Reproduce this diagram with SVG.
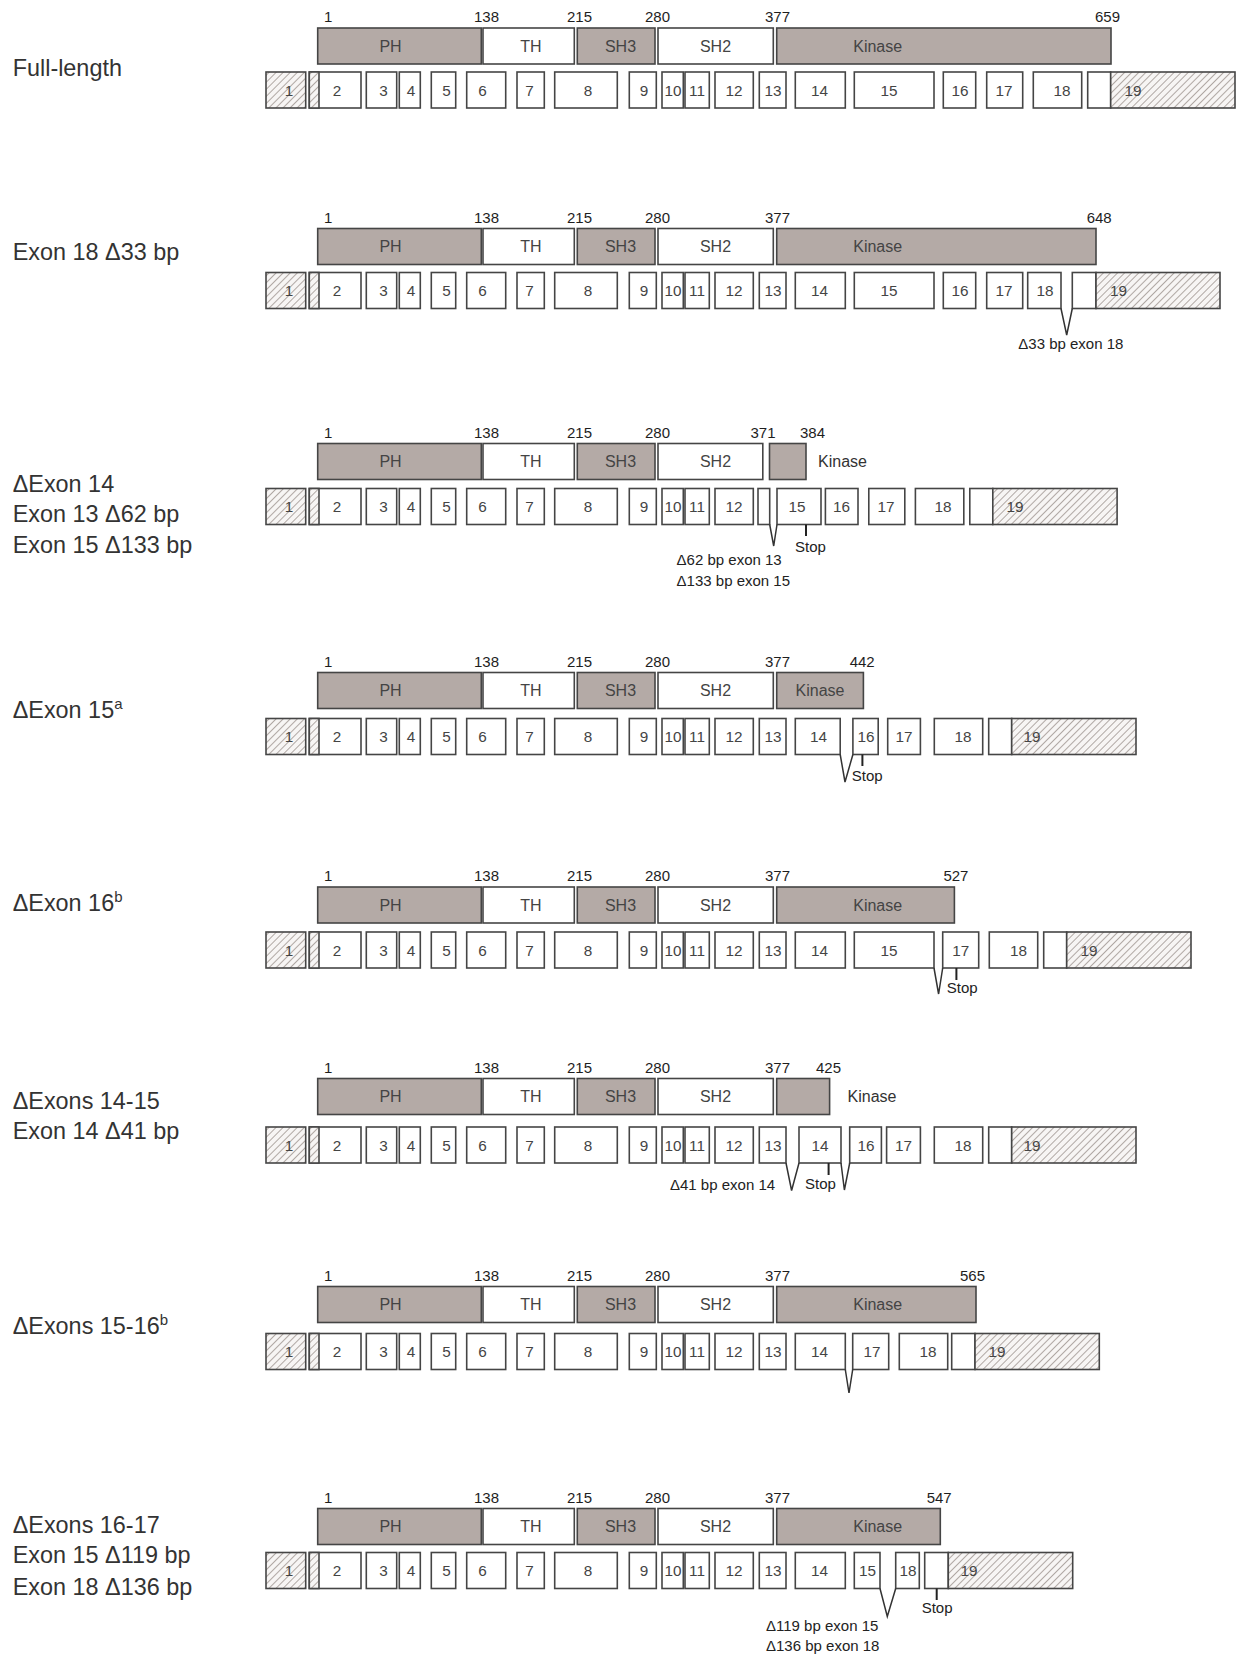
<svg xmlns="http://www.w3.org/2000/svg" width="1236" height="1655" viewBox="0 0 1236 1655">
<defs>
<pattern id="hatch" patternUnits="userSpaceOnUse" width="5" height="5" patternTransform="rotate(45)">
<rect width="5" height="5" fill="#f7f5f4"/>
<line x1="0" y1="0" x2="0" y2="5" stroke="#a39a96" stroke-width="1.7"/>
</pattern>
<style>
text{font-family:"Liberation Sans",Arial,sans-serif}
.dom{fill:#b4aaa6;stroke:#454545;stroke-width:1.6}
.dw{fill:#fff;stroke:#454545;stroke-width:1.6}
.ex{fill:#fff;stroke:#454545;stroke-width:1.6}
.hat{fill:url(#hatch);stroke:#454545;stroke-width:1.6}
.lbl{font-size:23.4px;fill:#333}
.sup{font-size:15px}
.num{font-size:15px;fill:#1e1e1e}
.dl{font-size:16px;fill:#444;text-anchor:middle}
.dls{font-size:16px;fill:#333}
.en{font-size:15.3px;fill:#444;text-anchor:middle}
.ann{font-size:15px;fill:#222}
.con{fill:none;stroke:#333;stroke-width:1.5}
.stop{fill:none;stroke:#222;stroke-width:2}
</style>
</defs>

<g id="labels">
<text class="lbl" x="12.7" y="76">Full-length</text>
<text class="lbl" x="12.7" y="259.5">Exon 18 Δ33 bp</text>
<text class="lbl" x="12.7" y="492">ΔExon 14</text>
<text class="lbl" x="12.7" y="521.5">Exon 13 Δ62 bp</text>
<text class="lbl" x="12.7" y="553">Exon 15 Δ133 bp</text>
<text class="lbl" x="12.7" y="718">ΔExon 15<tspan class="sup" dy="-9">a</tspan></text>
<text class="lbl" x="12.7" y="911">ΔExon 16<tspan class="sup" dy="-9">b</tspan></text>
<text class="lbl" x="12.7" y="1108.5">ΔExons 14-15</text>
<text class="lbl" x="12.7" y="1139">Exon 14 Δ41 bp</text>
<text class="lbl" x="12.7" y="1334">ΔExons 15-16<tspan class="sup" dy="-9">b</tspan></text>
<text class="lbl" x="12.7" y="1532.5">ΔExons 16-17</text>
<text class="lbl" x="12.7" y="1563">Exon 15 Δ119 bp</text>
<text class="lbl" x="12.7" y="1595">Exon 18 Δ136 bp</text>
</g>

<!-- Row 1 -->
<g id="row1">
<g id="r1-domains" transform="translate(0,28)">
<g id="r1-nums"><text class="num" x="324" y="-6">1</text><text class="num" x="474" y="-6">138</text><text class="num" x="567" y="-6">215</text><text class="num" x="645" y="-6">280</text><text class="num" x="765" y="-6">377</text><text class="num" x="1095" y="-6">659</text></g>
<g id="r1-PH"><rect class="dom" x="317.7" y="0" width="163.6" height="36"/><text class="dl" x="390.5" y="23.5">PH</text></g>
<g id="r1-TH"><rect class="dw" x="483" y="0" width="91.3" height="36"/><text class="dl" x="531" y="23.5">TH</text></g>
<g id="r1-SH3"><rect class="dom" x="577.3" y="0" width="77.7" height="36"/><text class="dl" x="620.5" y="23.5">SH3</text></g>
<g id="r1-SH2"><rect class="dw" x="658" y="0" width="115.3" height="36"/><text class="dl" x="715.5" y="23.5">SH2</text></g>
<g id="r1-kinase"><rect class="dom" x="776.7" y="0" width="334.3" height="36"/><text class="dl" x="877.7" y="23.5">Kinase</text></g>
</g>
<g id="r1-exons" transform="translate(0,72)">
<g id="r1-e1"><rect class="hat" x="266" y="0" width="39.7" height="36"/><text class="en" x="289" y="23.5">1</text></g>
<g id="r1-e2"><rect class="ex" x="309.3" y="0" width="51.7" height="36"/><rect class="hat" x="309.3" y="0" width="9.7" height="36"/><text class="en" x="337" y="23.5">2</text></g>
<g id="r1-e3"><rect class="ex" x="366.3" y="0" width="30.4" height="36"/><text class="en" x="383.5" y="23.5">3</text></g>
<g id="r1-e4"><rect class="ex" x="399.3" y="0" width="21" height="36"/><text class="en" x="411" y="23.5">4</text></g>
<g id="r1-e5"><rect class="ex" x="431.3" y="0" width="24.4" height="36"/><text class="en" x="446.5" y="23.5">5</text></g>
<g id="r1-e6"><rect class="ex" x="466.7" y="0" width="39" height="36"/><text class="en" x="482.5" y="23.5">6</text></g>
<g id="r1-e7"><rect class="ex" x="517" y="0" width="27.3" height="36"/><text class="en" x="529.5" y="23.5">7</text></g>
<g id="r1-e8"><rect class="ex" x="554.7" y="0" width="62.6" height="36"/><text class="en" x="588" y="23.5">8</text></g>
<g id="r1-e9"><rect class="ex" x="629.3" y="0" width="27" height="36"/><text class="en" x="644" y="23.5">9</text></g>
<g id="r1-e10"><rect class="ex" x="662" y="0" width="21.3" height="36"/><text class="en" x="673" y="23.5">10</text></g>
<g id="r1-e11"><rect class="ex" x="685" y="0" width="24.3" height="36"/><text class="en" x="697" y="23.5">11</text></g>
<g id="r1-e12"><rect class="ex" x="715" y="0" width="38.3" height="36"/><text class="en" x="734" y="23.5">12</text></g>
<g id="r1-e13"><rect class="ex" x="759.3" y="0" width="26.7" height="36"/><text class="en" x="773" y="23.5">13</text></g>
<g id="r1-e14"><rect class="ex" x="795.3" y="0" width="50" height="36"/><text class="en" x="819.5" y="23.5">14</text></g>
<g id="r1-e15"><rect class="ex" x="854.3" y="0" width="79.7" height="36"/><text class="en" x="889" y="23.5">15</text></g>
<g id="r1-e16"><rect class="ex" x="943.3" y="0" width="32.4" height="36"/><text class="en" x="960" y="23.5">16</text></g>
<g id="r1-e17"><rect class="ex" x="986.7" y="0" width="36" height="36"/><text class="en" x="1004" y="23.5">17</text></g>
<g id="r1-e18"><rect class="ex" x="1033.3" y="0" width="48.4" height="36"/><text class="en" x="1062" y="23.5">18</text></g>
<g id="r1-e19"><rect class="ex" x="1087.7" y="0" width="23" height="36"/><rect class="hat" x="1110.7" y="0" width="124.3" height="36"/><text class="en" x="1133" y="23.5">19</text></g>
</g>
</g>

<!-- Row 2 -->
<g id="row2">
<g id="r2-domains" transform="translate(0,228.5)">
<g id="r2-nums"><text class="num" x="324" y="-6">1</text><text class="num" x="474" y="-6">138</text><text class="num" x="567" y="-6">215</text><text class="num" x="645" y="-6">280</text><text class="num" x="765" y="-6">377</text><text class="num" x="1086.7" y="-6">648</text></g>
<g id="r2-PH"><rect class="dom" x="317.7" y="0" width="163.6" height="36"/><text class="dl" x="390.5" y="23.5">PH</text></g>
<g id="r2-TH"><rect class="dw" x="483" y="0" width="91.3" height="36"/><text class="dl" x="531" y="23.5">TH</text></g>
<g id="r2-SH3"><rect class="dom" x="577.3" y="0" width="77.7" height="36"/><text class="dl" x="620.5" y="23.5">SH3</text></g>
<g id="r2-SH2"><rect class="dw" x="658" y="0" width="115.3" height="36"/><text class="dl" x="715.5" y="23.5">SH2</text></g>
<g id="r2-kinase"><rect class="dom" x="776.7" y="0" width="319.3" height="36"/><text class="dl" x="877.7" y="23.5">Kinase</text></g>
</g>
<g id="r2-exons" transform="translate(0,272.5)">
<g id="r2-e1"><rect class="hat" x="266" y="0" width="39.7" height="36"/><text class="en" x="289" y="23.5">1</text></g>
<g id="r2-e2"><rect class="ex" x="309.3" y="0" width="51.7" height="36"/><rect class="hat" x="309.3" y="0" width="9.7" height="36"/><text class="en" x="337" y="23.5">2</text></g>
<g id="r2-e3"><rect class="ex" x="366.3" y="0" width="30.4" height="36"/><text class="en" x="383.5" y="23.5">3</text></g>
<g id="r2-e4"><rect class="ex" x="399.3" y="0" width="21" height="36"/><text class="en" x="411" y="23.5">4</text></g>
<g id="r2-e5"><rect class="ex" x="431.3" y="0" width="24.4" height="36"/><text class="en" x="446.5" y="23.5">5</text></g>
<g id="r2-e6"><rect class="ex" x="466.7" y="0" width="39" height="36"/><text class="en" x="482.5" y="23.5">6</text></g>
<g id="r2-e7"><rect class="ex" x="517" y="0" width="27.3" height="36"/><text class="en" x="529.5" y="23.5">7</text></g>
<g id="r2-e8"><rect class="ex" x="554.7" y="0" width="62.6" height="36"/><text class="en" x="588" y="23.5">8</text></g>
<g id="r2-e9"><rect class="ex" x="629.3" y="0" width="27" height="36"/><text class="en" x="644" y="23.5">9</text></g>
<g id="r2-e10"><rect class="ex" x="662" y="0" width="21.3" height="36"/><text class="en" x="673" y="23.5">10</text></g>
<g id="r2-e11"><rect class="ex" x="685" y="0" width="24.3" height="36"/><text class="en" x="697" y="23.5">11</text></g>
<g id="r2-e12"><rect class="ex" x="715" y="0" width="38.3" height="36"/><text class="en" x="734" y="23.5">12</text></g>
<g id="r2-e13"><rect class="ex" x="759.3" y="0" width="26.7" height="36"/><text class="en" x="773" y="23.5">13</text></g>
<g id="r2-e14"><rect class="ex" x="795.3" y="0" width="50" height="36"/><text class="en" x="819.5" y="23.5">14</text></g>
<g id="r2-e15"><rect class="ex" x="854.3" y="0" width="79.7" height="36"/><text class="en" x="889" y="23.5">15</text></g>
<g id="r2-e16"><rect class="ex" x="943.3" y="0" width="32.4" height="36"/><text class="en" x="960" y="23.5">16</text></g>
<g id="r2-e17"><rect class="ex" x="986.7" y="0" width="36" height="36"/><text class="en" x="1004" y="23.5">17</text></g>
<g id="r2-e18"><rect class="ex" x="1027.7" y="0" width="33.3" height="36"/><text class="en" x="1045" y="23.5">18</text></g>
<g id="r2-e19"><rect class="ex" x="1072.3" y="0" width="23.7" height="36"/><rect class="hat" x="1096" y="0" width="124" height="36"/><text class="en" x="1118.5" y="23.5">19</text></g>
</g>
</g>

<!-- Row 3 -->
<g id="row3">
<g id="r3-domains" transform="translate(0,443.5)">
<g id="r3-nums"><text class="num" x="324" y="-6">1</text><text class="num" x="474" y="-6">138</text><text class="num" x="567" y="-6">215</text><text class="num" x="645" y="-6">280</text><text class="num" x="750.5" y="-6">371</text><text class="num" x="800" y="-6">384</text></g>
<g id="r3-PH"><rect class="dom" x="317.7" y="0" width="163.6" height="36"/><text class="dl" x="390.5" y="23.5">PH</text></g>
<g id="r3-TH"><rect class="dw" x="483" y="0" width="91.3" height="36"/><text class="dl" x="531" y="23.5">TH</text></g>
<g id="r3-SH3"><rect class="dom" x="577.3" y="0" width="77.7" height="36"/><text class="dl" x="620.5" y="23.5">SH3</text></g>
<g id="r3-SH2"><rect class="dw" x="658" y="0" width="104.8" height="36"/><text class="dl" x="715.5" y="23.5">SH2</text></g>
<g id="r3-kinase"><rect class="dom" x="769.5" y="0" width="36.5" height="36"/><text class="dls" x="818" y="23.5">Kinase</text></g>
</g>
<g id="r3-exons" transform="translate(0,488.5)">
<g id="r3-e1"><rect class="hat" x="266" y="0" width="39.7" height="36"/><text class="en" x="289" y="23.5">1</text></g>
<g id="r3-e2"><rect class="ex" x="309.3" y="0" width="51.7" height="36"/><rect class="hat" x="309.3" y="0" width="9.7" height="36"/><text class="en" x="337" y="23.5">2</text></g>
<g id="r3-e3"><rect class="ex" x="366.3" y="0" width="30.4" height="36"/><text class="en" x="383.5" y="23.5">3</text></g>
<g id="r3-e4"><rect class="ex" x="399.3" y="0" width="21" height="36"/><text class="en" x="411" y="23.5">4</text></g>
<g id="r3-e5"><rect class="ex" x="431.3" y="0" width="24.4" height="36"/><text class="en" x="446.5" y="23.5">5</text></g>
<g id="r3-e6"><rect class="ex" x="466.7" y="0" width="39" height="36"/><text class="en" x="482.5" y="23.5">6</text></g>
<g id="r3-e7"><rect class="ex" x="517" y="0" width="27.3" height="36"/><text class="en" x="529.5" y="23.5">7</text></g>
<g id="r3-e8"><rect class="ex" x="554.7" y="0" width="62.6" height="36"/><text class="en" x="588" y="23.5">8</text></g>
<g id="r3-e9"><rect class="ex" x="629.3" y="0" width="27" height="36"/><text class="en" x="644" y="23.5">9</text></g>
<g id="r3-e10"><rect class="ex" x="662" y="0" width="21.3" height="36"/><text class="en" x="673" y="23.5">10</text></g>
<g id="r3-e11"><rect class="ex" x="685" y="0" width="24.3" height="36"/><text class="en" x="697" y="23.5">11</text></g>
<g id="r3-e12"><rect class="ex" x="715" y="0" width="38.3" height="36"/><text class="en" x="734" y="23.5">12</text></g>
<g id="r3-e13"><rect class="ex" x="758" y="0" width="11.7" height="36"/></g>
<g id="r3-e15"><rect class="ex" x="777" y="0" width="44" height="36"/><text class="en" x="797" y="23.5">15</text></g>
<g id="r3-e16"><rect class="ex" x="825.4" y="0" width="32.6" height="36"/><text class="en" x="841.5" y="23.5">16</text></g>
<g id="r3-e17"><rect class="ex" x="868.8" y="0" width="36" height="36"/><text class="en" x="886" y="23.5">17</text></g>
<g id="r3-e18"><rect class="ex" x="915.4" y="0" width="48.4" height="36"/><text class="en" x="943" y="23.5">18</text></g>
<g id="r3-e19"><rect class="ex" x="969.8" y="0" width="23" height="36"/><rect class="hat" x="992.8" y="0" width="124.3" height="36"/><text class="en" x="1015" y="23.5">19</text></g>
</g>
</g>

<!-- Row 4 -->
<g id="row4">
<g id="r4-domains" transform="translate(0,672.5)">
<g id="r4-nums"><text class="num" x="324" y="-6">1</text><text class="num" x="474" y="-6">138</text><text class="num" x="567" y="-6">215</text><text class="num" x="645" y="-6">280</text><text class="num" x="765" y="-6">377</text><text class="num" x="849.7" y="-6">442</text></g>
<g id="r4-PH"><rect class="dom" x="317.7" y="0" width="163.6" height="36"/><text class="dl" x="390.5" y="23.5">PH</text></g>
<g id="r4-TH"><rect class="dw" x="483" y="0" width="91.3" height="36"/><text class="dl" x="531" y="23.5">TH</text></g>
<g id="r4-SH3"><rect class="dom" x="577.3" y="0" width="77.7" height="36"/><text class="dl" x="620.5" y="23.5">SH3</text></g>
<g id="r4-SH2"><rect class="dw" x="658" y="0" width="115.3" height="36"/><text class="dl" x="715.5" y="23.5">SH2</text></g>
<g id="r4-kinase"><rect class="dom" x="776.7" y="0" width="86.7" height="36"/><text class="dl" x="820" y="23.5">Kinase</text></g>
</g>
<g id="r4-exons" transform="translate(0,718.5)">
<g id="r4-e1"><rect class="hat" x="266" y="0" width="39.7" height="36"/><text class="en" x="289" y="23.5">1</text></g>
<g id="r4-e2"><rect class="ex" x="309.3" y="0" width="51.7" height="36"/><rect class="hat" x="309.3" y="0" width="9.7" height="36"/><text class="en" x="337" y="23.5">2</text></g>
<g id="r4-e3"><rect class="ex" x="366.3" y="0" width="30.4" height="36"/><text class="en" x="383.5" y="23.5">3</text></g>
<g id="r4-e4"><rect class="ex" x="399.3" y="0" width="21" height="36"/><text class="en" x="411" y="23.5">4</text></g>
<g id="r4-e5"><rect class="ex" x="431.3" y="0" width="24.4" height="36"/><text class="en" x="446.5" y="23.5">5</text></g>
<g id="r4-e6"><rect class="ex" x="466.7" y="0" width="39" height="36"/><text class="en" x="482.5" y="23.5">6</text></g>
<g id="r4-e7"><rect class="ex" x="517" y="0" width="27.3" height="36"/><text class="en" x="529.5" y="23.5">7</text></g>
<g id="r4-e8"><rect class="ex" x="554.7" y="0" width="62.6" height="36"/><text class="en" x="588" y="23.5">8</text></g>
<g id="r4-e9"><rect class="ex" x="629.3" y="0" width="27" height="36"/><text class="en" x="644" y="23.5">9</text></g>
<g id="r4-e10"><rect class="ex" x="662" y="0" width="21.3" height="36"/><text class="en" x="673" y="23.5">10</text></g>
<g id="r4-e11"><rect class="ex" x="685" y="0" width="24.3" height="36"/><text class="en" x="697" y="23.5">11</text></g>
<g id="r4-e12"><rect class="ex" x="715" y="0" width="38.3" height="36"/><text class="en" x="734" y="23.5">12</text></g>
<g id="r4-e13"><rect class="ex" x="759.3" y="0" width="26.7" height="36"/><text class="en" x="773" y="23.5">13</text></g>
<g id="r4-e14"><rect class="ex" x="795.3" y="0" width="44.9" height="36"/><text class="en" x="818.5" y="23.5">14</text></g>
<g id="r4-e16"><rect class="ex" x="852.9" y="0" width="25.3" height="36"/><text class="en" x="866" y="23.5">16</text></g>
<g id="r4-e17"><rect class="ex" x="887.7" y="0" width="32.7" height="36"/><text class="en" x="904" y="23.5">17</text></g>
<g id="r4-e18"><rect class="ex" x="934.3" y="0" width="48.4" height="36"/><text class="en" x="963" y="23.5">18</text></g>
<g id="r4-e19"><rect class="ex" x="988.7" y="0" width="23" height="36"/><rect class="hat" x="1011.7" y="0" width="124.3" height="36"/><text class="en" x="1032" y="23.5">19</text></g>
</g>
</g>

<!-- Row 5 -->
<g id="row5">
<g id="r5-domains" transform="translate(0,887)">
<g id="r5-nums"><text class="num" x="324" y="-6">1</text><text class="num" x="474" y="-6">138</text><text class="num" x="567" y="-6">215</text><text class="num" x="645" y="-6">280</text><text class="num" x="765" y="-6">377</text><text class="num" x="943.4" y="-6">527</text></g>
<g id="r5-PH"><rect class="dom" x="317.7" y="0" width="163.6" height="36"/><text class="dl" x="390.5" y="23.5">PH</text></g>
<g id="r5-TH"><rect class="dw" x="483" y="0" width="91.3" height="36"/><text class="dl" x="531" y="23.5">TH</text></g>
<g id="r5-SH3"><rect class="dom" x="577.3" y="0" width="77.7" height="36"/><text class="dl" x="620.5" y="23.5">SH3</text></g>
<g id="r5-SH2"><rect class="dw" x="658" y="0" width="115.3" height="36"/><text class="dl" x="715.5" y="23.5">SH2</text></g>
<g id="r5-kinase"><rect class="dom" x="776.7" y="0" width="177.7" height="36"/><text class="dl" x="877.7" y="23.5">Kinase</text></g>
</g>
<g id="r5-exons" transform="translate(0,932)">
<g id="r5-e1"><rect class="hat" x="266" y="0" width="39.7" height="36"/><text class="en" x="289" y="23.5">1</text></g>
<g id="r5-e2"><rect class="ex" x="309.3" y="0" width="51.7" height="36"/><rect class="hat" x="309.3" y="0" width="9.7" height="36"/><text class="en" x="337" y="23.5">2</text></g>
<g id="r5-e3"><rect class="ex" x="366.3" y="0" width="30.4" height="36"/><text class="en" x="383.5" y="23.5">3</text></g>
<g id="r5-e4"><rect class="ex" x="399.3" y="0" width="21" height="36"/><text class="en" x="411" y="23.5">4</text></g>
<g id="r5-e5"><rect class="ex" x="431.3" y="0" width="24.4" height="36"/><text class="en" x="446.5" y="23.5">5</text></g>
<g id="r5-e6"><rect class="ex" x="466.7" y="0" width="39" height="36"/><text class="en" x="482.5" y="23.5">6</text></g>
<g id="r5-e7"><rect class="ex" x="517" y="0" width="27.3" height="36"/><text class="en" x="529.5" y="23.5">7</text></g>
<g id="r5-e8"><rect class="ex" x="554.7" y="0" width="62.6" height="36"/><text class="en" x="588" y="23.5">8</text></g>
<g id="r5-e9"><rect class="ex" x="629.3" y="0" width="27" height="36"/><text class="en" x="644" y="23.5">9</text></g>
<g id="r5-e10"><rect class="ex" x="662" y="0" width="21.3" height="36"/><text class="en" x="673" y="23.5">10</text></g>
<g id="r5-e11"><rect class="ex" x="685" y="0" width="24.3" height="36"/><text class="en" x="697" y="23.5">11</text></g>
<g id="r5-e12"><rect class="ex" x="715" y="0" width="38.3" height="36"/><text class="en" x="734" y="23.5">12</text></g>
<g id="r5-e13"><rect class="ex" x="759.3" y="0" width="26.7" height="36"/><text class="en" x="773" y="23.5">13</text></g>
<g id="r5-e14"><rect class="ex" x="795.3" y="0" width="50" height="36"/><text class="en" x="819.5" y="23.5">14</text></g>
<g id="r5-e15"><rect class="ex" x="854.3" y="0" width="79.7" height="36"/><text class="en" x="889" y="23.5">15</text></g>
<g id="r5-e17"><rect class="ex" x="942.7" y="0" width="36" height="36"/><text class="en" x="960.7" y="23.5">17</text></g>
<g id="r5-e18"><rect class="ex" x="989.3" y="0" width="48.4" height="36"/><text class="en" x="1018.5" y="23.5">18</text></g>
<g id="r5-e19"><rect class="ex" x="1043.7" y="0" width="23" height="36"/><rect class="hat" x="1066.7" y="0" width="124.3" height="36"/><text class="en" x="1089" y="23.5">19</text></g>
</g>
</g>

<!-- Row 6 -->
<g id="row6">
<g id="r6-domains" transform="translate(0,1078.5)">
<g id="r6-nums"><text class="num" x="324" y="-6">1</text><text class="num" x="474" y="-6">138</text><text class="num" x="567" y="-6">215</text><text class="num" x="645" y="-6">280</text><text class="num" x="765" y="-6">377</text><text class="num" x="816" y="-6">425</text></g>
<g id="r6-PH"><rect class="dom" x="317.7" y="0" width="163.6" height="36"/><text class="dl" x="390.5" y="23.5">PH</text></g>
<g id="r6-TH"><rect class="dw" x="483" y="0" width="91.3" height="36"/><text class="dl" x="531" y="23.5">TH</text></g>
<g id="r6-SH3"><rect class="dom" x="577.3" y="0" width="77.7" height="36"/><text class="dl" x="620.5" y="23.5">SH3</text></g>
<g id="r6-SH2"><rect class="dw" x="658" y="0" width="115.3" height="36"/><text class="dl" x="715.5" y="23.5">SH2</text></g>
<g id="r6-kinase"><rect class="dom" x="776.7" y="0" width="52.9" height="36"/><text class="dls" x="847.6" y="23.5">Kinase</text></g>
</g>
<g id="r6-exons" transform="translate(0,1127)">
<g id="r6-e1"><rect class="hat" x="266" y="0" width="39.7" height="36"/><text class="en" x="289" y="23.5">1</text></g>
<g id="r6-e2"><rect class="ex" x="309.3" y="0" width="51.7" height="36"/><rect class="hat" x="309.3" y="0" width="9.7" height="36"/><text class="en" x="337" y="23.5">2</text></g>
<g id="r6-e3"><rect class="ex" x="366.3" y="0" width="30.4" height="36"/><text class="en" x="383.5" y="23.5">3</text></g>
<g id="r6-e4"><rect class="ex" x="399.3" y="0" width="21" height="36"/><text class="en" x="411" y="23.5">4</text></g>
<g id="r6-e5"><rect class="ex" x="431.3" y="0" width="24.4" height="36"/><text class="en" x="446.5" y="23.5">5</text></g>
<g id="r6-e6"><rect class="ex" x="466.7" y="0" width="39" height="36"/><text class="en" x="482.5" y="23.5">6</text></g>
<g id="r6-e7"><rect class="ex" x="517" y="0" width="27.3" height="36"/><text class="en" x="529.5" y="23.5">7</text></g>
<g id="r6-e8"><rect class="ex" x="554.7" y="0" width="62.6" height="36"/><text class="en" x="588" y="23.5">8</text></g>
<g id="r6-e9"><rect class="ex" x="629.3" y="0" width="27" height="36"/><text class="en" x="644" y="23.5">9</text></g>
<g id="r6-e10"><rect class="ex" x="662" y="0" width="21.3" height="36"/><text class="en" x="673" y="23.5">10</text></g>
<g id="r6-e11"><rect class="ex" x="685" y="0" width="24.3" height="36"/><text class="en" x="697" y="23.5">11</text></g>
<g id="r6-e12"><rect class="ex" x="715" y="0" width="38.3" height="36"/><text class="en" x="734" y="23.5">12</text></g>
<g id="r6-e13"><rect class="ex" x="759.3" y="0" width="26.7" height="36"/><text class="en" x="773" y="23.5">13</text></g>
<g id="r6-e14"><rect class="ex" x="799" y="0" width="42" height="36"/><text class="en" x="820" y="23.5">14</text></g>
<g id="r6-e16"><rect class="ex" x="849.7" y="0" width="31.7" height="36"/><text class="en" x="866" y="23.5">16</text></g>
<g id="r6-e17"><rect class="ex" x="886.6" y="0" width="33.8" height="36"/><text class="en" x="903.5" y="23.5">17</text></g>
<g id="r6-e18"><rect class="ex" x="934.3" y="0" width="48.4" height="36"/><text class="en" x="963" y="23.5">18</text></g>
<g id="r6-e19"><rect class="ex" x="988.7" y="0" width="23" height="36"/><rect class="hat" x="1011.7" y="0" width="124.3" height="36"/><text class="en" x="1032" y="23.5">19</text></g>
</g>
</g>

<!-- Row 7 -->
<g id="row7">
<g id="r7-domains" transform="translate(0,1286.5)">
<g id="r7-nums"><text class="num" x="324" y="-6">1</text><text class="num" x="474" y="-6">138</text><text class="num" x="567" y="-6">215</text><text class="num" x="645" y="-6">280</text><text class="num" x="765" y="-6">377</text><text class="num" x="960" y="-6">565</text></g>
<g id="r7-PH"><rect class="dom" x="317.7" y="0" width="163.6" height="36"/><text class="dl" x="390.5" y="23.5">PH</text></g>
<g id="r7-TH"><rect class="dw" x="483" y="0" width="91.3" height="36"/><text class="dl" x="531" y="23.5">TH</text></g>
<g id="r7-SH3"><rect class="dom" x="577.3" y="0" width="77.7" height="36"/><text class="dl" x="620.5" y="23.5">SH3</text></g>
<g id="r7-SH2"><rect class="dw" x="658" y="0" width="115.3" height="36"/><text class="dl" x="715.5" y="23.5">SH2</text></g>
<g id="r7-kinase"><rect class="dom" x="776.7" y="0" width="199.3" height="36"/><text class="dl" x="877.7" y="23.5">Kinase</text></g>
</g>
<g id="r7-exons" transform="translate(0,1333.5)">
<g id="r7-e1"><rect class="hat" x="266" y="0" width="39.7" height="36"/><text class="en" x="289" y="23.5">1</text></g>
<g id="r7-e2"><rect class="ex" x="309.3" y="0" width="51.7" height="36"/><rect class="hat" x="309.3" y="0" width="9.7" height="36"/><text class="en" x="337" y="23.5">2</text></g>
<g id="r7-e3"><rect class="ex" x="366.3" y="0" width="30.4" height="36"/><text class="en" x="383.5" y="23.5">3</text></g>
<g id="r7-e4"><rect class="ex" x="399.3" y="0" width="21" height="36"/><text class="en" x="411" y="23.5">4</text></g>
<g id="r7-e5"><rect class="ex" x="431.3" y="0" width="24.4" height="36"/><text class="en" x="446.5" y="23.5">5</text></g>
<g id="r7-e6"><rect class="ex" x="466.7" y="0" width="39" height="36"/><text class="en" x="482.5" y="23.5">6</text></g>
<g id="r7-e7"><rect class="ex" x="517" y="0" width="27.3" height="36"/><text class="en" x="529.5" y="23.5">7</text></g>
<g id="r7-e8"><rect class="ex" x="554.7" y="0" width="62.6" height="36"/><text class="en" x="588" y="23.5">8</text></g>
<g id="r7-e9"><rect class="ex" x="629.3" y="0" width="27" height="36"/><text class="en" x="644" y="23.5">9</text></g>
<g id="r7-e10"><rect class="ex" x="662" y="0" width="21.3" height="36"/><text class="en" x="673" y="23.5">10</text></g>
<g id="r7-e11"><rect class="ex" x="685" y="0" width="24.3" height="36"/><text class="en" x="697" y="23.5">11</text></g>
<g id="r7-e12"><rect class="ex" x="715" y="0" width="38.3" height="36"/><text class="en" x="734" y="23.5">12</text></g>
<g id="r7-e13"><rect class="ex" x="759.3" y="0" width="26.7" height="36"/><text class="en" x="773" y="23.5">13</text></g>
<g id="r7-e14"><rect class="ex" x="795.3" y="0" width="50" height="36"/><text class="en" x="819.5" y="23.5">14</text></g>
<g id="r7-e17"><rect class="ex" x="852.7" y="0" width="36" height="36"/><text class="en" x="872" y="23.5">17</text></g>
<g id="r7-e18"><rect class="ex" x="899.3" y="0" width="48.4" height="36"/><text class="en" x="928" y="23.5">18</text></g>
<g id="r7-e19"><rect class="ex" x="951.7" y="0" width="23.3" height="36"/><rect class="hat" x="975" y="0" width="124.3" height="36"/><text class="en" x="997" y="23.5">19</text></g>
</g>
</g>

<!-- Row 8 -->
<g id="row8">
<g id="r8-domains" transform="translate(0,1508.5)">
<g id="r8-nums"><text class="num" x="324" y="-6">1</text><text class="num" x="474" y="-6">138</text><text class="num" x="567" y="-6">215</text><text class="num" x="645" y="-6">280</text><text class="num" x="765" y="-6">377</text><text class="num" x="926.7" y="-6">547</text></g>
<g id="r8-PH"><rect class="dom" x="317.7" y="0" width="163.6" height="36"/><text class="dl" x="390.5" y="23.5">PH</text></g>
<g id="r8-TH"><rect class="dw" x="483" y="0" width="91.3" height="36"/><text class="dl" x="531" y="23.5">TH</text></g>
<g id="r8-SH3"><rect class="dom" x="577.3" y="0" width="77.7" height="36"/><text class="dl" x="620.5" y="23.5">SH3</text></g>
<g id="r8-SH2"><rect class="dw" x="658" y="0" width="115.3" height="36"/><text class="dl" x="715.5" y="23.5">SH2</text></g>
<g id="r8-kinase"><rect class="dom" x="776.7" y="0" width="163.6" height="36"/><text class="dl" x="877.7" y="23.5">Kinase</text></g>
</g>
<g id="r8-exons" transform="translate(0,1552.5)">
<g id="r8-e1"><rect class="hat" x="266" y="0" width="39.7" height="36"/><text class="en" x="289" y="23.5">1</text></g>
<g id="r8-e2"><rect class="ex" x="309.3" y="0" width="51.7" height="36"/><rect class="hat" x="309.3" y="0" width="9.7" height="36"/><text class="en" x="337" y="23.5">2</text></g>
<g id="r8-e3"><rect class="ex" x="366.3" y="0" width="30.4" height="36"/><text class="en" x="383.5" y="23.5">3</text></g>
<g id="r8-e4"><rect class="ex" x="399.3" y="0" width="21" height="36"/><text class="en" x="411" y="23.5">4</text></g>
<g id="r8-e5"><rect class="ex" x="431.3" y="0" width="24.4" height="36"/><text class="en" x="446.5" y="23.5">5</text></g>
<g id="r8-e6"><rect class="ex" x="466.7" y="0" width="39" height="36"/><text class="en" x="482.5" y="23.5">6</text></g>
<g id="r8-e7"><rect class="ex" x="517" y="0" width="27.3" height="36"/><text class="en" x="529.5" y="23.5">7</text></g>
<g id="r8-e8"><rect class="ex" x="554.7" y="0" width="62.6" height="36"/><text class="en" x="588" y="23.5">8</text></g>
<g id="r8-e9"><rect class="ex" x="629.3" y="0" width="27" height="36"/><text class="en" x="644" y="23.5">9</text></g>
<g id="r8-e10"><rect class="ex" x="662" y="0" width="21.3" height="36"/><text class="en" x="673" y="23.5">10</text></g>
<g id="r8-e11"><rect class="ex" x="685" y="0" width="24.3" height="36"/><text class="en" x="697" y="23.5">11</text></g>
<g id="r8-e12"><rect class="ex" x="715" y="0" width="38.3" height="36"/><text class="en" x="734" y="23.5">12</text></g>
<g id="r8-e13"><rect class="ex" x="759.3" y="0" width="26.7" height="36"/><text class="en" x="773" y="23.5">13</text></g>
<g id="r8-e14"><rect class="ex" x="795.3" y="0" width="50" height="36"/><text class="en" x="819.5" y="23.5">14</text></g>
<g id="r8-e15"><rect class="ex" x="854.3" y="0" width="25.7" height="36"/><text class="en" x="867.5" y="23.5">15</text></g>
<g id="r8-e18"><rect class="ex" x="895.7" y="0" width="23.6" height="36"/><text class="en" x="908" y="23.5">18</text></g>
<g id="r8-e19"><rect class="ex" x="924.7" y="0" width="23.6" height="36"/><rect class="hat" x="948.3" y="0" width="124.4" height="36"/><text class="en" x="969" y="23.5">19</text></g>
</g>
</g>

<g id="connectors">
<polyline class="con" points="1061,308.5 1066.7,335 1072.3,308.5"/>
<polyline class="con" points="769.7,524.5 773.7,546 777,524.5"/>
<line class="stop" x1="806" y1="524.5" x2="806" y2="536"/>
<polyline class="con" points="840.2,754.5 845,782 852.9,754.5"/>
<line class="stop" x1="862.4" y1="754.5" x2="862.4" y2="766"/>
<polyline class="con" points="934,968 938.6,994 942.7,968"/>
<line class="stop" x1="956.4" y1="968" x2="956.4" y2="980"/>
<polyline class="con" points="786,1163 791.6,1190.5 799,1163"/>
<polyline class="con" points="841,1163 844.4,1190 849.7,1163"/>
<line class="stop" x1="828.6" y1="1163" x2="828.6" y2="1175"/>
<polyline class="con" points="845.3,1369.5 849,1393 852.7,1369.5"/>
<polyline class="con" points="880,1588.5 887.3,1616.5 895.7,1588.5"/>
<line class="stop" x1="936.7" y1="1588.5" x2="936.7" y2="1600"/>
</g>

<g id="annotations">
<text class="ann" x="1018.3" y="348.5">Δ33 bp exon 18</text>
<text class="ann" x="795" y="551.5">Stop</text>
<text class="ann" x="676.6" y="565">Δ62 bp exon 13</text>
<text class="ann" x="676.6" y="586">Δ133 bp exon 15</text>
<text class="ann" x="851.8" y="781">Stop</text>
<text class="ann" x="946.8" y="993">Stop</text>
<text class="ann" x="670" y="1189.5">Δ41 bp exon 14</text>
<text class="ann" x="805" y="1189">Stop</text>
<text class="ann" x="921.7" y="1612.7">Stop</text>
<text class="ann" x="766" y="1631">Δ119 bp exon 15</text>
<text class="ann" x="766" y="1651">Δ136 bp exon 18</text>
</g>
</svg>
